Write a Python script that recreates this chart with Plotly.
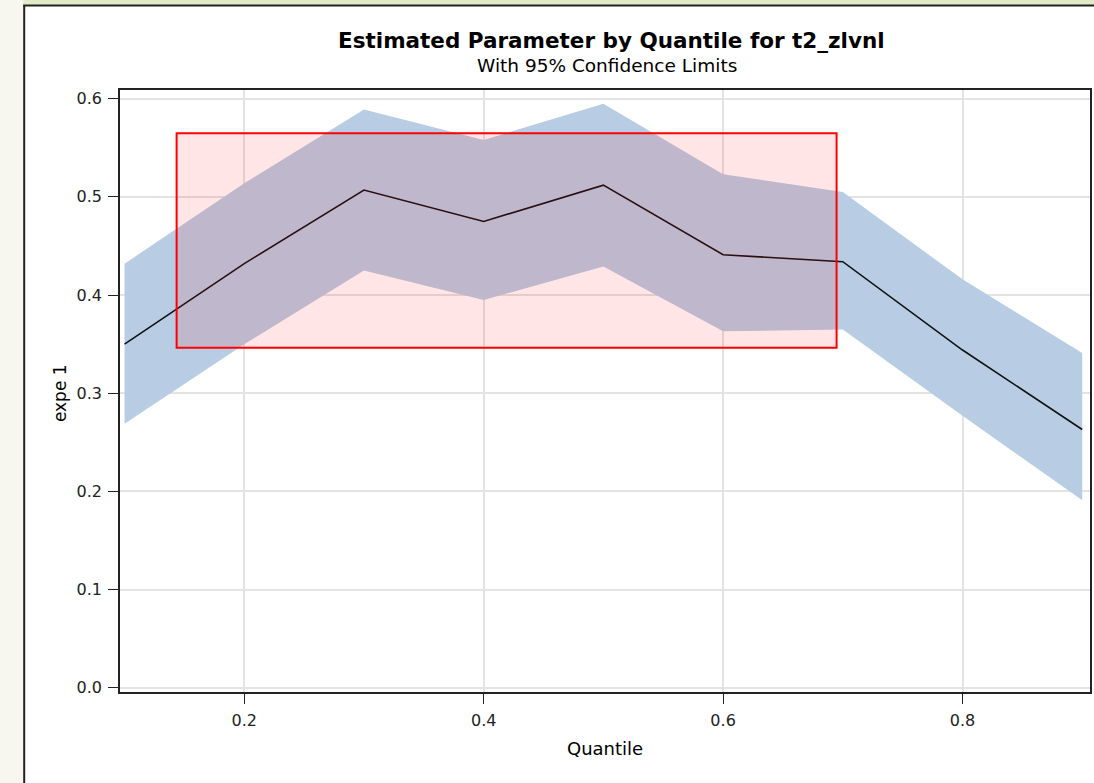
import plotly.graph_objects as go

quantiles = [0.1, 0.2, 0.3, 0.4, 0.5, 0.6, 0.7, 0.8, 0.9]
estimate = [0.350, 0.432, 0.507, 0.475, 0.512, 0.441, 0.434, 0.344, 0.263]
upper = [0.432, 0.514, 0.589, 0.558, 0.595, 0.523, 0.505, 0.416, 0.341]
lower = [0.269, 0.350, 0.425, 0.395, 0.429, 0.363, 0.365, 0.277, 0.191]

x_ticks = [0.2, 0.4, 0.6, 0.8]
y_ticks = [0.0, 0.1, 0.2, 0.3, 0.4, 0.5, 0.6]

box_x = [0.1435, 0.6948]
box_y = [0.3462, 0.5649]

title = "Estimated Parameter by Quantile for t2_zlvnl"
subtitle = "With 95% Confidence Limits"
x_title = "Quantile"
y_title = "expe 1"

W, H = 1094, 783
L, R, T, B = 120, 2, 90, 91
pw, ph = W - L - R, H - T - B


def px(x):
    return (x - L) / pw


def py(y):
    return (H - B - y) / ph


FONT = "DejaVu Sans"

fig = go.Figure()
fig.add_trace(go.Scatter(x=quantiles, y=lower, mode="lines", line=dict(width=0),
                         showlegend=False, hoverinfo="skip"))
fig.add_trace(go.Scatter(x=quantiles, y=upper, mode="lines", line=dict(width=0),
                         fill="tonexty", fillcolor="#b8cde4", showlegend=False,
                         hoverinfo="skip"))
fig.add_trace(go.Scatter(x=quantiles, y=estimate, mode="lines",
                         line=dict(color="#111111", width=1.6), showlegend=False))

shapes = []
# background strips and panel border
shapes.append(dict(type="rect", xref="paper", yref="paper", x0=px(-5), x1=px(23),
                   y0=py(H + 5), y1=py(-5), fillcolor="#f7f7f0", line=dict(width=0),
                   layer="below"))
shapes.append(dict(type="rect", xref="paper", yref="paper", x0=px(23), x1=px(W + 5),
                   y0=py(5), y1=py(-5), fillcolor="#e2eac8", line=dict(width=0),
                   layer="below"))
shapes.append(dict(type="line", xref="paper", yref="paper", x0=px(24), x1=px(24),
                   y0=py(H + 5), y1=py(5), line=dict(color="#222222", width=2)))
shapes.append(dict(type="line", xref="paper", yref="paper", x0=px(23), x1=px(W + 5),
                   y0=py(5.5), y1=py(5.5), line=dict(color="#222222", width=2)))
# highlight box
shapes.append(dict(type="rect", xref="x", yref="y", x0=box_x[0], x1=box_x[1],
                   y0=box_y[0], y1=box_y[1], fillcolor="rgba(255,0,0,0.1)",
                   line=dict(color="#ff0000", width=2), layer="above"))

annotations = [
    dict(text="<b>%s</b>" % title, xref="paper", yref="paper", x=px(613), y=py(40),
         showarrow=False, xanchor="center", yanchor="middle",
         font=dict(family=FONT, size=21.5, color="#000000")),
    dict(text=subtitle, xref="paper", yref="paper", x=px(608), y=py(66),
         showarrow=False, xanchor="center", yanchor="middle",
         font=dict(family=FONT, size=18.5, color="#000000")),
    dict(text=x_title, xref="paper", yref="paper", x=px(606), y=py(748),
         showarrow=False, xanchor="center", yanchor="middle",
         font=dict(family=FONT, size=18, color="#000000")),
    dict(text=y_title, xref="paper", yref="paper", x=px(60), y=py(393),
         showarrow=False, xanchor="center", yanchor="middle", textangle=-90,
         font=dict(family=FONT, size=17, color="#000000")),
]

axis_common = dict(showline=True, linecolor="#222222", linewidth=1.5, mirror=True,
                   ticks="outside", ticklen=10, tickcolor="#222222", tickwidth=1.2,
                   showgrid=True, gridcolor="#e3e3e3", gridwidth=1.5, zeroline=False,
                   tickfont=dict(family=FONT, size=16, color="#222222"))

fig.update_layout(
    width=W, height=H,
    margin=dict(l=L, r=R, t=T, b=B),
    paper_bgcolor="#ffffff", plot_bgcolor="#ffffff",
    xaxis=dict(range=[0.0962, 0.9065], tickvals=x_ticks, ticklabelstandoff=3,
               ticktext=["%.1f" % v for v in x_ticks], **axis_common),
    yaxis=dict(range=[-0.0044, 0.6089], tickvals=y_ticks, ticklabelstandoff=3,
               ticktext=["%.1f" % v for v in y_ticks], **axis_common),
    shapes=shapes,
    annotations=annotations,
    showlegend=False,
)

fig.write_html("out.html")
